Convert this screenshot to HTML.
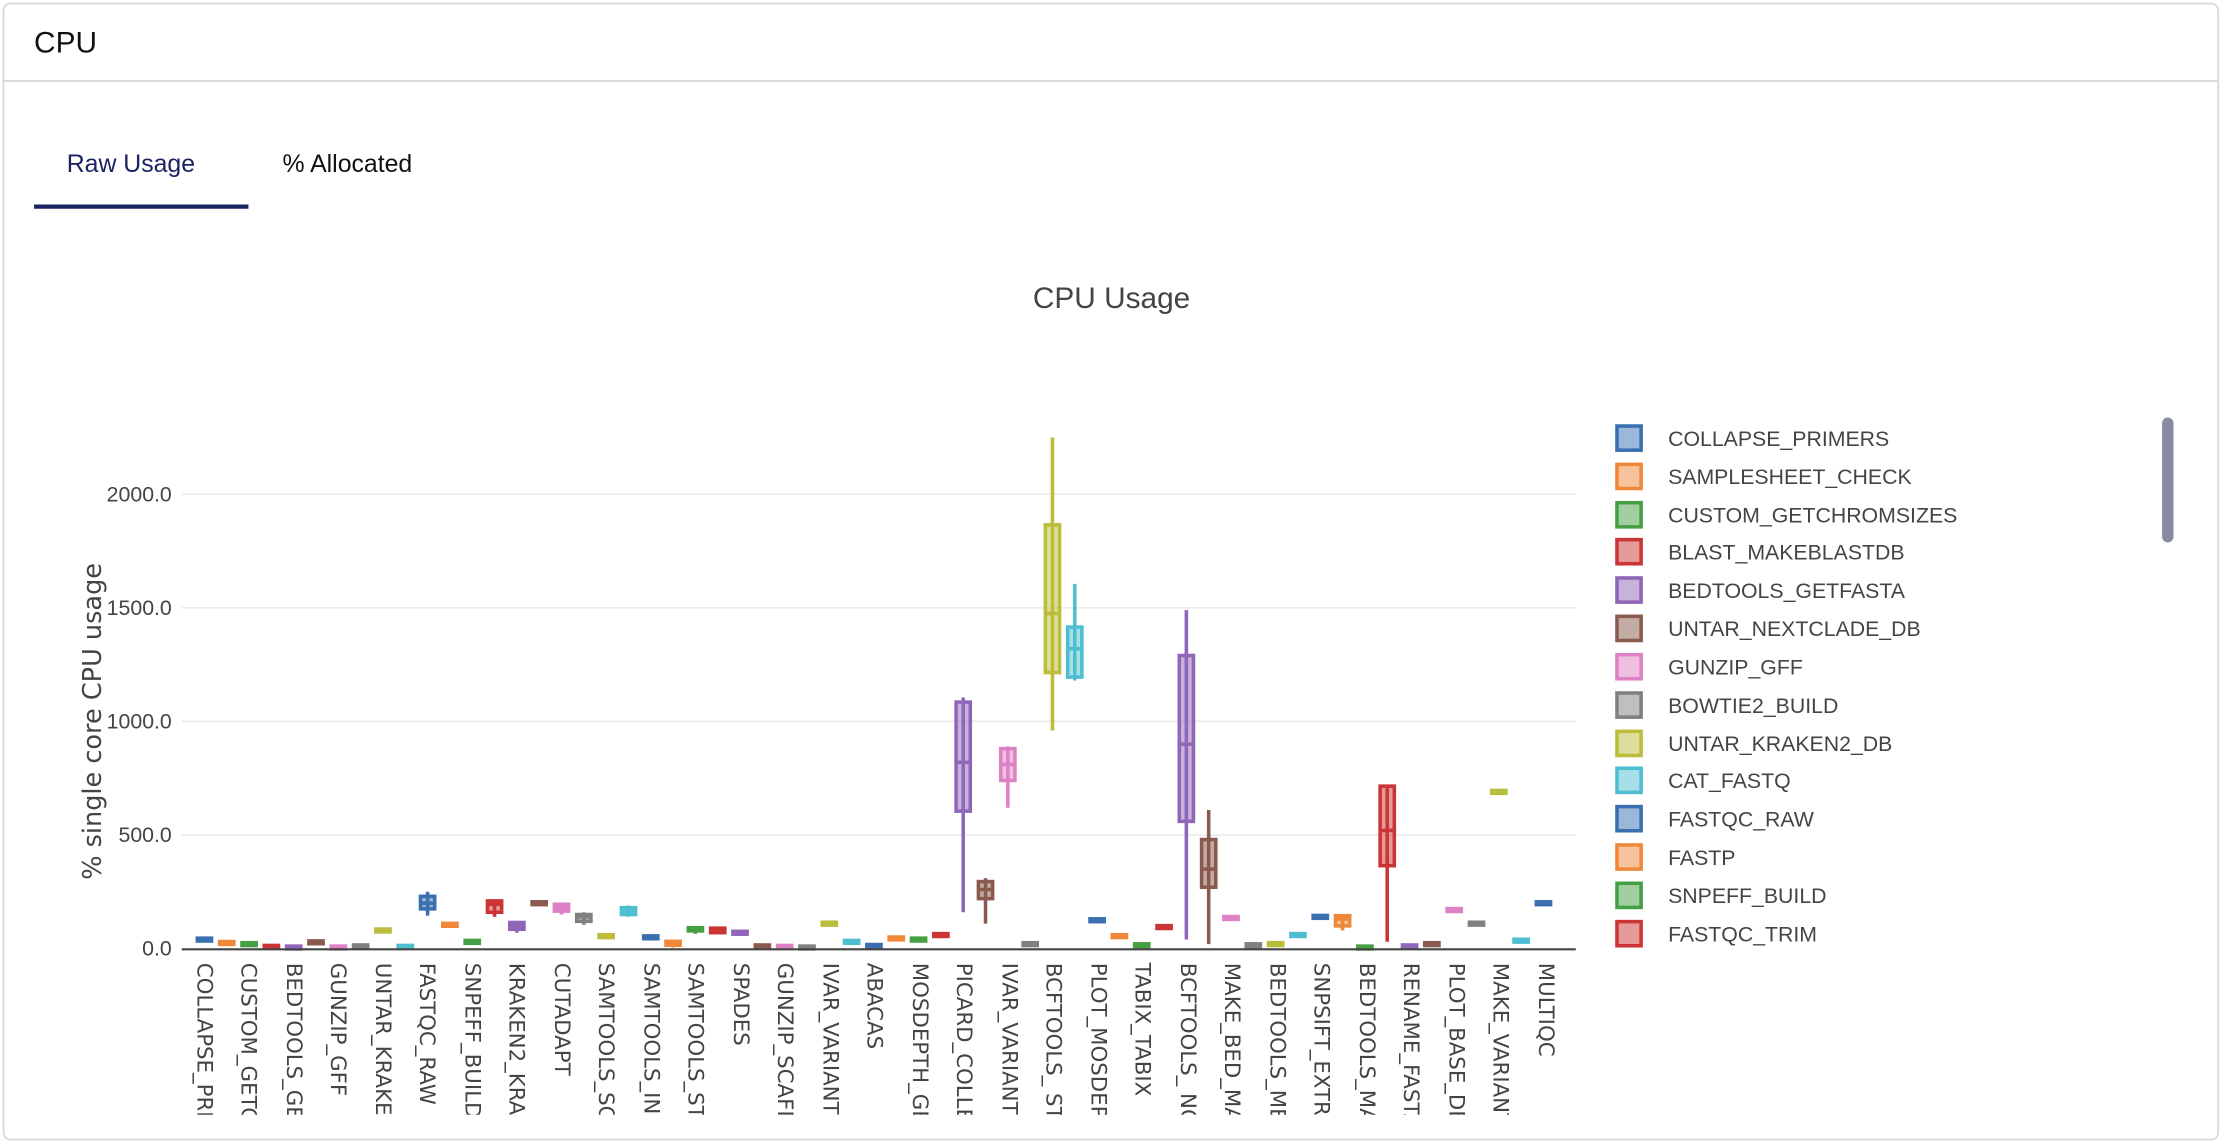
<!DOCTYPE html>
<html><head><meta charset="utf-8"><style>
html,body{margin:0;padding:0;background:#fff;overflow:hidden;width:2226px;height:1146px;}
svg{display:block;font-family:"Liberation Sans",sans-serif;}
</style></head><body>
<svg id="s" width="2226" height="1146" viewBox="0 0 1568 807" preserveAspectRatio="none" xmlns="http://www.w3.org/2000/svg">
<defs><clipPath id="xc"><rect x="120" y="674" width="1000" height="111"/></clipPath></defs>
<rect x="2.5" y="2.5" width="1560" height="800" rx="5" fill="#fff" stroke="#d9d9d9" stroke-width="1.3"/>
<line x1="3" y1="57" x2="1562" y2="57" stroke="#d9d9d9" stroke-width="1.3"/>
<text x="24" y="37" font-size="21" fill="#111">CPU</text>
<text x="47" y="121" font-size="17.5" fill="#1b2463">Raw Usage</text>
<text x="199" y="121" font-size="17.5" fill="#111">% Allocated</text>
<rect x="24" y="144" width="151" height="3" fill="#1b2463"/>
<text x="783" y="217" font-size="21" fill="#444" text-anchor="middle">CPU Usage</text>
<g stroke="#ebebeb" stroke-width="1.2">
<line x1="128" y1="348" x2="1110" y2="348"/><line x1="128" y1="428" x2="1110" y2="428"/>
<line x1="128" y1="508" x2="1110" y2="508"/><line x1="128" y1="588" x2="1110" y2="588"/>
</g>
<g font-size="15" fill="#444" text-anchor="end">
<text x="121" y="353">2000.0</text><text x="121" y="433">1500.0</text><text x="121" y="513">1000.0</text><text x="121" y="593">500.0</text><text x="121" y="673">0.0</text>
</g>
<text transform="translate(71,508) rotate(-90)" font-size="18" fill="#444" text-anchor="middle" font-family="DejaVu Sans, sans-serif">% single core CPU usage</text>
<g id="boxes"></g>
<line x1="128" y1="668.5" x2="1110" y2="668.5" stroke="#444" stroke-width="1.5"/>
<g clip-path="url(#xc)" font-size="15" fill="#444" font-family="DejaVu Sans, sans-serif">
<text transform="translate(139,678) rotate(90)">COLLAPSE_PRIMERS</text>
<text transform="translate(170,678) rotate(90)">CUSTOM_GETCHROMSIZES</text>
<text transform="translate(202,678) rotate(90)">BEDTOOLS_GETFASTA</text>
<text transform="translate(233,678) rotate(90)">GUNZIP_GFF</text>
<text transform="translate(265,678) rotate(90)">UNTAR_KRAKEN2_DB</text>
<text transform="translate(296,678) rotate(90)">FASTQC_RAW</text>
<text transform="translate(328,678) rotate(90)">SNPEFF_BUILD</text>
<text transform="translate(359,678) rotate(90)">KRAKEN2_KRAKEN2</text>
<text transform="translate(391,678) rotate(90)">CUTADAPT</text>
<text transform="translate(422,678) rotate(90)">SAMTOOLS_SORT</text>
<text transform="translate(454,678) rotate(90)">SAMTOOLS_INDEX</text>
<text transform="translate(485,678) rotate(90)">SAMTOOLS_STATS</text>
<text transform="translate(517,678) rotate(90)">SPADES</text>
<text transform="translate(548,678) rotate(90)">GUNZIP_SCAFFOLDS</text>
<text transform="translate(580,678) rotate(90)">IVAR_VARIANTS</text>
<text transform="translate(611,678) rotate(90)">ABACAS</text>
<text transform="translate(643,678) rotate(90)">MOSDEPTH_GENOME</text>
<text transform="translate(674,678) rotate(90)">PICARD_COLLECTMULTIPLE</text>
<text transform="translate(706,678) rotate(90)">IVAR_VARIANTS_TO_VCF</text>
<text transform="translate(737,678) rotate(90)">BCFTOOLS_ STATS</text>
<text transform="translate(769,678) rotate(90)">PLOT_MOSDEPTH</text>
<text transform="translate(800,678) rotate(90)">TABIX_TABIX</text>
<text transform="translate(832,678) rotate(90)">BCFTOOLS_ NORM</text>
<text transform="translate(863,678) rotate(90)">MAKE_BED_MASK</text>
<text transform="translate(895,678) rotate(90)">BEDTOOLS_MERGE</text>
<text transform="translate(926,678) rotate(90)">SNPSIFT_EXTRACTFIELDS</text>
<text transform="translate(958,678) rotate(90)">BEDTOOLS_MASKFASTA</text>
<text transform="translate(989,678) rotate(90)">RENAME_FASTA</text>
<text transform="translate(1021,678) rotate(90)">PLOT_BASE_DENSITY</text>
<text transform="translate(1052,678) rotate(90)">MAKE_VARIANTS</text>
<text transform="translate(1084,678) rotate(90)">MULTIQC</text>
</g>
<g id="legend" font-size="15" fill="#444">
<text x="1175" y="314">COLLAPSE_PRIMERS</text>
<text x="1175" y="341">SAMPLESHEET_CHECK</text>
<text x="1175" y="368">CUSTOM_GETCHROMSIZES</text>
<text x="1175" y="394">BLAST_MAKEBLASTDB</text>
<text x="1175" y="421">BEDTOOLS_GETFASTA</text>
<text x="1175" y="448">UNTAR_NEXTCLADE_DB</text>
<text x="1175" y="475">GUNZIP_GFF</text>
<text x="1175" y="502">BOWTIE2_BUILD</text>
<text x="1175" y="529">UNTAR_KRAKEN2_DB</text>
<text x="1175" y="555">CAT_FASTQ</text>
<text x="1175" y="582">FASTQC_RAW</text>
<text x="1175" y="609">FASTP</text>
<text x="1175" y="636">SNPEFF_BUILD</text>
<text x="1175" y="663">FASTQC_TRIM</text>
</g>
<g id="lsq"></g>
<rect x="1523" y="294" width="8" height="88" rx="4" fill="#858ba3"/>
</svg>
<script>
var pal=["#3a6fb0","#f0883a","#45a044","#cc3535","#9066b8","#8a5a4e","#de80c4","#808080","#bcbd3a","#4ebfd0"];
var small={0:40,1:25,2:20,3:8,4:5,5:28,6:5,7:10,8:80,9:8,11:105,12:30,15:200,18:55,20:50,24:70,25:10,26:8,27:5,28:110,29:30,30:12,31:45,32:40,33:60,37:20,40:125,41:55,42:15,43:95,46:135,47:15,48:20,49:60,50:140,52:5,54:10,55:20,56:170,57:110,58:690,59:35,60:200};
var big={10:[175,200,230,145,250],13:[160,195,210,140,210],14:[85,100,115,70,120],16:[165,180,195,150,200],17:[120,140,150,105,160],19:[150,165,180,140,190],21:[15,25,32,5,35],22:[78,85,92,65,98],23:[70,80,90,65,92],
34:[605,820,1085,160,1105],35:[220,260,295,110,310],36:[740,810,880,620,890],38:[1215,1475,1865,960,2250],39:[1195,1320,1415,1180,1605],44:[560,900,1290,40,1490],45:[270,350,480,20,610],51:[100,130,145,80,145],53:[365,520,715,30,720]};
var g=document.getElementById("boxes"),h="";
function Y(v){return 668-v*0.16;}
for(var i=0;i<61;i++){
 var c=pal[i%10],x=144+i*15.72,b;
 if(big[i])b=big[i];else{var v=small[i]||10;b=[v-6,v,v+6,v-8,v+8];if(b[3]<0)b[3]=0;if(b[0]<0)b[0]=0;}
 var w=5;
 h+='<line x1="'+x+'" y1="'+Y(b[4])+'" x2="'+x+'" y2="'+Y(b[3])+'" stroke="'+c+'" stroke-width="2.5"/>';
 h+='<rect x="'+(x-w)+'" y="'+Y(b[2])+'" width="'+(2*w)+'" height="'+Math.max(2,Y(b[0])-Y(b[2]))+'" fill="'+c+'" fill-opacity="0.5" stroke="'+c+'" stroke-width="2.5"/>';
 h+='<line x1="'+(x-w)+'" y1="'+Y(b[1])+'" x2="'+(x+w)+'" y2="'+Y(b[1])+'" stroke="'+c+'" stroke-width="2.5"/>';
}
g.innerHTML=h;
var l="",ys=[308,335,362,388,415,442,469,496,523,549,576,603,630,657];
for(var k=0;k<14;k++){var c=pal[k%10];l+='<rect x="1139" y="'+(ys[k]-8)+'" width="17" height="17" fill="'+c+'" fill-opacity="0.5" stroke="'+c+'" stroke-width="2.5"/>';}
document.getElementById("lsq").innerHTML=l;
</script>
</body></html>
